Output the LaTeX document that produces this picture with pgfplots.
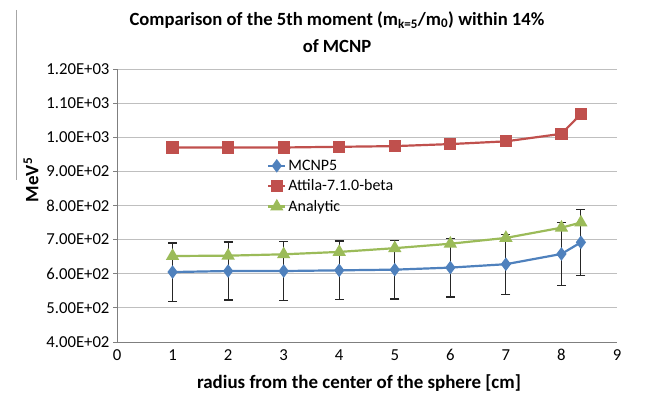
\documentclass[border=0pt]{standalone}
\usepackage{pgfplots}
\pgfplotsset{compat=1.18}
\usepackage{fontspec}
\setmainfont{Carlito}
\definecolor{cblue}{HTML}{4F81BD}
\definecolor{cred}{HTML}{C0504D}
\definecolor{cgreen}{HTML}{9BBB59}
\definecolor{cgrid}{HTML}{BFBFBF}
\definecolor{caxis}{HTML}{7F7F7F}
\begin{document}
\begin{tikzpicture}[x=1bp,y=1bp]
\useasboundingbox (0,0) rectangle (648,402);
\draw[gray!70, line width=0.8bp] (16,392) -- (16,222);
\node[font=\fontsize{18.7}{22}\selectfont\bfseries] at (337,382) {Comparison of the 5th moment (m\textsubscript{k=5}/m\textsubscript{0}) within 14\%};
\node[font=\fontsize{18.7}{22}\selectfont\bfseries] at (337,356) {of MCNP};
\node[font=\fontsize{19}{22}\selectfont\bfseries, rotate=90] at (31,222) {MeV\textsuperscript{5}};
\node[font=\fontsize{19}{22}\selectfont\bfseries] at (359,19) {radius from the center of the sphere [cm]};
\begin{axis}[
  at={(117bp,60bp)}, anchor=south west,
  width=500bp, height=273bp, scale only axis,
  xmin=0, xmax=9, ymin=400, ymax=1200,
  xtick={0,1,...,9}, ytick={400,500,...,1200},
  yticklabels={4.00E+02,5.00E+02,6.00E+02,7.00E+02,8.00E+02,9.00E+02,1.00E+03,1.10E+03,1.20E+03},
  /pgf/number format/assume math mode=true,
  ticklabel style={font=\fontsize{16.8}{19}\selectfont},
  axis lines*=left,
  axis line style={caxis, line width=0.8bp, -},
  ymajorgrids, grid style={cgrid, line width=0.8bp},
  xtick style={draw=none},
  ytick style={caxis, line width=0.8bp},
  tick align=outside, major tick length=4bp,
  legend style={at={(0.30,0.675)}, anchor=north west, draw=none, fill=none,
    font=\fontsize{16}{19}\selectfont, row sep=4bp, inner sep=0pt},
  legend cell align=left,
  clip=false,
]
\addplot[cblue, line width=2.2bp, mark=diamond*, mark size=5bp, mark options={solid},
  error bars/.cd, y dir=both, y explicit,
  error bar style={black!85, line width=1.1bp},
  error mark options={black!85, line width=1.1bp, rotate=90, mark size=4.5bp}]
  coordinates {
  (1,605) +- (0,85)
  (2,608) +- (0,85)
  (3,608) +- (0,86)
  (4,610) +- (0,86)
  (5,612) +- (0,86)
  (6,618) +- (0,86)
  (7,628) +- (0,88)
  (8,658) +- (0,92)
  (8.35,692) +- (0,97)
};
\addlegendentry{MCNP5}
\addplot[cred, line width=2.2bp, mark=square*, mark size=5bp]
  coordinates {
  (1,970) (2,970) (3,970) (4,972) (5,974) (6,980) (7,988) (8,1010) (8.35,1068)
};
\addlegendentry{Attila-7.1.0-beta}
\addplot[cgreen, line width=2.2bp, mark=triangle*, mark size=5.5bp]
  coordinates {
  (1,652) (2,653) (3,657) (4,664) (5,675) (6,688) (7,705) (8,735) (8.35,750)
};
\addlegendentry{Analytic}
\end{axis}
\end{tikzpicture}
\end{document}
